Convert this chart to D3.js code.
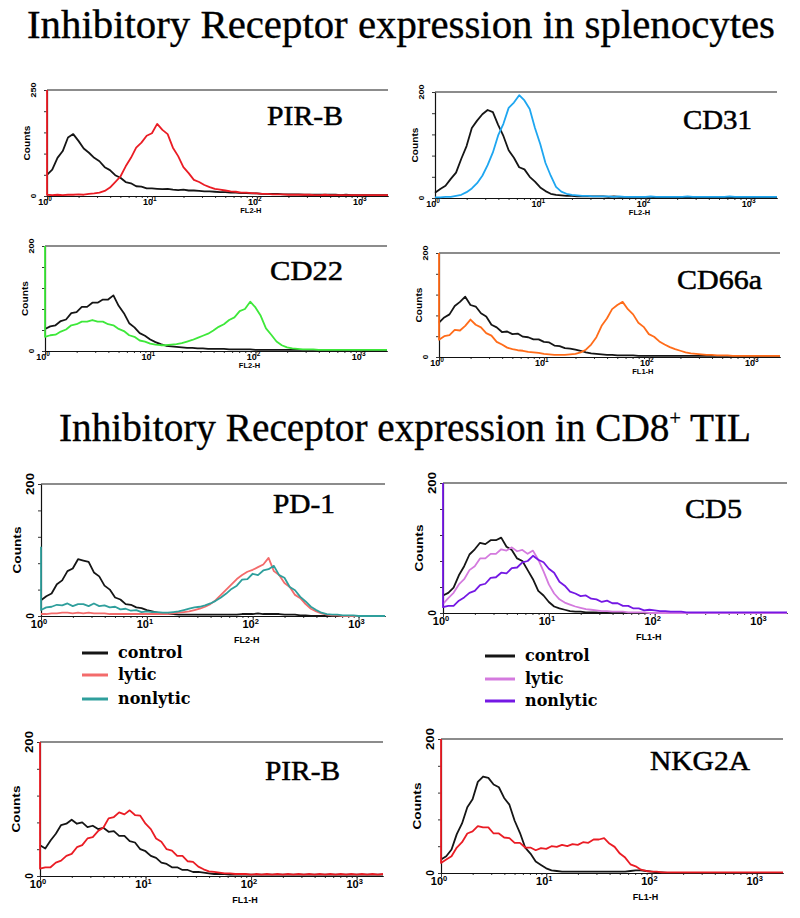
<!DOCTYPE html>
<html>
<head>
<meta charset="utf-8">
<script src="https://cdn.jsdelivr.net/npm/d3@7"></script>
<style>
  body { margin: 0; background: #fff; }
  svg { display: block; }
</style>
</head>
<body>
<svg id="figure" width="800" height="918"></svg>
<script>
// log10 fluorescence channel positions shared by all histograms
const logBins = [0, 0.05, 0.1, 0.15, 0.2, 0.25, 0.3, 0.35, 0.4, 0.45,
  0.5, 0.55, 0.6, 0.65, 0.7, 0.75, 0.8, 0.85, 0.9, 0.95,
  1, 1.05, 1.1, 1.15, 1.2, 1.25, 1.3, 1.35, 1.4, 1.45,
  1.5, 1.55, 1.6, 1.65, 1.7, 1.75, 1.8, 1.85, 1.9, 1.95,
  2, 2.05, 2.1, 2.15, 2.2, 2.25, 2.3, 2.35, 2.4, 2.45,
  2.5, 2.55, 2.6, 2.65, 2.7, 2.75, 2.8, 2.85, 2.9, 2.95,
  3, 3.05, 3.1, 3.15, 3.2, 3.25];

const decades = [1, 10, 100, 1000];
const decadeExponents = ['0', '1', '2', '3'];

const titles = ['Inhibitory Receptor expression in splenocytes', 'Inhibitory Receptor expression in CD8', ' TIL'];
const panelNames = ['PIR-B', 'CD31', 'CD22', 'CD66a', 'PD-1', 'CD5', 'PIR-B', 'NKG2A'];
const countMax = [250, 200, 200, 200, 200, 200, 200, 200];
const channelNames = ['FL2-H', 'FL2-H', 'FL2-H', 'FL1-H', 'FL2-H', 'FL1-H', 'FL1-H', 'FL1-H'];
const legendLabels = ['control', 'lytic', 'nonlytic'];

// counts per channel
const pirbSplControl = [50,62,90,106,138,146,130,112,102,90,
  82,68,61,49,43,33,30,23,22,18,
  18,17,16,17,15,14,15,13,13,12,
  11,11,10,9,9,8,8,7,7,6,
  6,5,5,5,5,4,4,4,4,3,
  3,3,3,3,3,3,2,3,2,2,
  2,2,2,2,2,2];
const pirbSplStained = [3,2,3,2,3,3,4,3,5,6,
  8,12,20,33,46,70,90,114,126,142,
  148,170,156,146,114,94,68,54,38,33,
  26,21,17,15,13,11,10,8,8,7,
  6,5,5,4,4,4,3,3,3,3,
  3,2,2,3,2,2,2,2,2,2,
  2,2,2,2,2,2];
const cd31Control = [10,17,23,36,48,74,98,132,146,158,
  166,162,138,117,90,76,58,54,40,31,
  20,13,8,6,5,4,4,3,3,3,
  3,3,3,2,3,2,2,2,2,2,
  2,2,1,1,1,1,1,1,1,1,
  1,1,1,1,1,1,1,1,1,1,
  1,1,1,1,1,1];
const cd31Stained = [1,1,2,2,4,6,11,18,28,42,
  62,86,118,140,170,180,194,184,168,132,
  102,66,42,21,12,8,6,5,4,4,
  3,3,3,3,2,3,2,2,2,2,
  2,3,2,2,2,2,2,2,3,2,
  2,2,2,2,2,2,3,2,2,2,
  2,2,2,2,2,2];
const cd22Control = [42,47,49,57,60,72,74,84,84,92,
  92,98,98,106,86,72,53,45,34,29,
  22,17,13,10,9,8,7,6,6,5,
  5,4,4,4,4,3,3,3,3,3,
  2,2,2,2,2,2,2,2,2,2,
  2,2,2,2,2,2,2,2,2,2,
  2,2,2,2,2,2];
const cd22Stained = [27,30,31,37,41,49,51,56,56,59,
  56,56,51,49,42,38,30,27,20,18,
  14,12,11,11,12,13,15,18,21,25,
  29,33,39,46,51,59,64,76,80,94,
  83,67,43,31,18,11,7,5,4,3,
  3,3,2,2,2,2,2,2,2,2,
  2,2,2,2,2,2];
const cd66aControl = [66,76,82,98,106,116,100,97,84,78,
  62,57,48,49,44,45,39,38,34,34,
  29,28,22,21,17,16,14,12,9,7,
  6,5,4,4,3,3,3,3,2,2,
  2,2,2,2,2,2,2,2,2,2,
  2,2,2,2,2,2,2,2,2,2,
  2,2,2,2,2,2];
const cd66aStained = [33,40,42,52,51,60,72,62,57,46,
  41,29,24,18,15,13,12,10,9,8,
  6,5,4,4,4,5,6,9,14,24,
  38,60,74,92,100,106,92,82,66,58,
  44,39,30,24,19,15,12,9,7,6,
  5,4,4,3,3,3,2,2,2,2,
  2,2,2,2,2,2];
const pd1Control = [24,30,34,48,54,68,72,86,84,82,
  66,60,46,40,28,25,18,17,13,12,
  9,7,5,4,3,3,2,2,2,2,
  2,2,2,2,2,2,2,2,3,3,
  3,4,3,3,3,3,2,2,2,1,
  1,0,0,0,0,0,0,0,0,0,
  0,0,0,0,0,0];
const pd1Lytic = [3,3,4,4,5,5,4,5,4,5,
  4,4,4,3,3,3,3,3,3,3,
  3,3,3,3,3,4,5,6,7,9,
  11,14,18,24,32,40,48,56,62,67,
  70,74,78,88,68,62,50,44,32,27,
  18,11,7,4,2,1,1,0,0,0,
  0,0,0,0,0,0];
const pd1Nonlytic = [9,13,14,17,16,19,15,18,18,15,
  19,15,16,13,14,10,11,8,9,6,
  7,6,6,5,5,6,7,9,11,13,
  14,16,19,23,28,34,41,46,55,56,
  64,62,69,71,76,62,58,44,39,29,
  22,14,9,5,3,2,2,1,1,1,
  0,0,0,0,0,0];
const cd5Control = [27,31,39,58,72,90,98,108,106,112,
  112,116,102,97,84,80,66,52,34,27,
  17,10,7,5,3,2,2,1,1,1,
  0,0,0,0,0,0,0,0,0,0,
  0,0,0,0,0,0,0,0,0,0,
  0,0,0,0,0,0,0,0,0,0,
  0,0,0,0,0,0];
const cd5Lytic = [14,23,31,44,52,66,72,84,84,91,
  91,98,96,101,95,97,91,96,82,64,
  44,30,21,16,13,10,8,6,5,4,
  3,3,2,2,2,1,1,1,1,0,
  0,0,0,0,0,0,0,0,0,0,
  0,0,0,0,0,0,0,0,0,0,
  0,0,0,0,0,0];
const cd5Nonlytic = [9,11,11,19,24,31,34,43,45,54,
  55,62,61,69,70,78,80,88,82,78,
  68,62,48,42,33,30,26,27,22,21,
  17,19,15,15,11,11,7,7,4,5,
  4,3,3,2,2,2,1,1,1,1,
  1,1,1,1,1,1,1,1,1,1,
  1,1,1,1,1,1];
const pirbTilControl = [46,41,53,63,76,78,84,78,80,73,
  75,70,72,66,67,60,60,52,50,40,
  37,30,27,20,18,13,13,9,9,6,
  6,5,4,3,3,3,2,2,2,2,
  2,2,2,2,2,2,2,2,2,2,
  2,2,2,2,2,2,2,2,2,2,
  2,2,2,2,2,2];
const pirbTilStained = [11,13,13,20,23,30,33,43,46,56,
  58,67,72,86,88,95,92,98,91,90,
  78,70,56,51,40,38,30,30,22,21,
  14,10,7,6,5,4,4,3,3,3,
  2,3,2,3,2,3,2,3,2,3,
  2,3,2,3,2,3,2,3,2,3,
  2,3,2,3,2,3];
const nkg2aControl = [20,25,35,58,74,98,110,136,144,142,
  132,128,112,102,78,60,38,29,17,12,
  7,4,3,2,2,2,2,2,2,2,
  2,2,2,2,2,2,3,4,4,3,
  2,1,1,0,0,0,0,0,0,0,
  0,0,0,0,0,0,0,0,0,0,
  0,0,0,0,0,0];
const nkg2aStained = [15,20,25,38,46,59,62,70,68,68,
  59,59,53,52,45,45,38,38,34,37,
  36,40,39,42,40,43,42,46,45,50,
  50,52,44,39,29,23,13,10,5,3,
  2,2,1,1,1,1,1,1,1,1,
  1,1,1,1,1,1,1,1,1,1,
  1,1,1,1,1,1];

// off-scale pile-up in the first channel (null = none)
const firstChannelCounts = [
  [null, 250], [null, null], [null, 200], [null, 200],
  [null, null, 105], [null, null, 200], [null, 200], [null, 200]
];

const seriesData = [
  [pirbSplControl, pirbSplStained],
  [cd31Control, cd31Stained],
  [cd22Control, cd22Stained],
  [cd66aControl, cd66aStained],
  [pd1Control, pd1Lytic, pd1Nonlytic],
  [cd5Control, cd5Lytic, cd5Nonlytic],
  [pirbTilControl, pirbTilStained],
  [nkg2aControl, nkg2aStained]
];

const seriesColors = [
  ['#151515', '#ea1c24'],
  ['#151515', '#1ea6f0'],
  ['#151515', '#3ee83a'],
  ['#151515', '#ff6c1a'],
  ['#151515', '#f36b6b', '#2f9f9c'],
  ['#151515', '#d47ade', '#7418e4'],
  ['#151515', '#ea1c24'],
  ['#151515', '#ea1c24']
];

// page layout of each histogram frame
const frames = [
  { left: 47, right: 388, top: 90, bottom: 196, row: 'small', label: { x: 267, y: 125, w: 76 } },
  { left: 435, right: 777, top: 92, bottom: 198, row: 'small', label: { x: 683, y: 129, w: 69 } },
  { left: 45, right: 387, top: 246, bottom: 351, row: 'small', label: { x: 270, y: 280, w: 73 } },
  { left: 439, right: 780, top: 253, bottom: 357, row: 'small', label: { x: 677, y: 289, w: 85 } },
  { left: 41, right: 385, top: 484, bottom: 616, row: 'large', label: { x: 273, y: 513, w: 62 } },
  { left: 443, right: 787, top: 483, bottom: 613, row: 'large', label: { x: 685, y: 518, w: 57 } },
  { left: 40, right: 383, top: 742, bottom: 876, row: 'large', label: { x: 265, y: 780, w: 75 } },
  { left: 441, right: 783, top: 739, bottom: 873, row: 'large', label: { x: 650, y: 770, w: 100 } }
];

const rowStyles = {
  small: { tickFont: 9, supFont: 6.5, tickDy: 9, chanDy: 17, chanFont: 7.5, countsFont: 9, countsLen: 35, countsDx: 20, numFont: 8, numDx: 14, topLen: 15 },
  large: { tickFont: 11, supFont: 7.5, tickDy: 12, chanDy: 27, chanFont: 9, countsFont: 11, countsLen: 47, countsDx: 24, numFont: 10, numDx: 11, topLen: 22 }
};

const legends = [
  { panel: 4, x1: 82, x2: 108, tx: 118, ys: [653, 675, 699] },
  { panel: 5, x1: 485, x2: 515, tx: 525, ys: [656, 679, 701] }
];

const sansFont = '"Liberation Sans", Arial, sans-serif';
const serifFont = '"Liberation Serif", "Times New Roman", serif';

const svg = d3.select('#figure');

// Section titles
svg.append('text')
    .attr('x', 27).attr('y', 38)
    .attr('font-family', serifFont).attr('font-size', 39)
    .attr('stroke', '#000').attr('stroke-width', 0.35)
    .attr('textLength', 748).attr('lengthAdjust', 'spacingAndGlyphs')
    .text(titles[0]);

const title2 = svg.append('text')
    .attr('x', 59).attr('y', 441)
    .attr('font-family', serifFont).attr('font-size', 39)
    .attr('stroke', '#000').attr('stroke-width', 0.35)
    .attr('textLength', 692).attr('lengthAdjust', 'spacingAndGlyphs');
title2.append('tspan').text(titles[1]);
title2.append('tspan').attr('dy', -16).attr('font-size', 20).text('+');
title2.append('tspan').attr('dy', 16).text(titles[2]);

// Draw one histogram frame with its overlays
function drawPanel(i) {
    const f = frames[i];
    const st = rowStyles[f.row];
    const ymax = countMax[i];
    const g = svg.append('g');

    const x = d3.scaleLog()
        .domain([1, Math.pow(10, logBins[logBins.length - 1])])
        .range([f.left, f.right]);
    const y = d3.scaleLinear()
        .domain([0, ymax])
        .range([f.bottom, f.top])
        .clamp(true);

    // grey top line at full scale
    g.append('line')
        .attr('x1', f.left).attr('x2', f.right)
        .attr('y1', y(ymax)).attr('y2', y(ymax))
        .attr('stroke', '#8c8c8c').attr('stroke-width', 2);

    // x axis: minor log ticks, then decades
    g.append('g')
        .attr('transform', `translate(0,${f.bottom})`)
        .call(d3.axisBottom(x).tickValues(x.ticks()).tickSize(2).tickSizeOuter(0).tickFormat(''));
    g.append('g')
        .attr('transform', `translate(0,${f.bottom})`)
        .call(d3.axisBottom(x).tickValues(decades).tickSize(4).tickSizeOuter(0).tickFormat(''));

    // y axis
    g.append('g')
        .attr('transform', `translate(${f.left},0)`)
        .call(d3.axisLeft(y).tickValues(d3.range(0, ymax + 1, ymax / 5)).tickSize(3).tickSizeOuter(0).tickFormat(''));

    g.selectAll('.domain').attr('stroke', '#111').attr('stroke-width', 1.2);
    g.selectAll('.tick line').attr('stroke', '#333');

    // decade labels 10^n
    decades.forEach((d, k) => {
        const t = g.append('text')
            .attr('x', x(d) - 2)
            .attr('y', f.bottom + st.tickDy)
            .attr('text-anchor', 'middle')
            .attr('font-family', sansFont).attr('font-weight', 'bold')
            .attr('font-size', st.tickFont);
        t.append('tspan').text('10');
        t.append('tspan')
            .attr('dy', -st.tickFont * 0.4)
            .attr('font-size', st.supFont)
            .text(decadeExponents[k]);
    });

    // channel name
    g.append('text')
        .attr('x', x(100) - 6)
        .attr('y', f.bottom + st.chanDy)
        .attr('text-anchor', 'middle')
        .attr('font-family', sansFont).attr('font-weight', 'bold')
        .attr('font-size', st.chanFont)
        .text(channelNames[i]);

    // rotated count labels
    const midY = (f.top + f.bottom) / 2;
    g.append('text')
        .attr('transform', `translate(${f.left - st.countsDx},${midY}) rotate(-90)`)
        .attr('text-anchor', 'middle').attr('dy', '0.35em')
        .attr('font-family', sansFont).attr('font-weight', 'bold')
        .attr('font-size', st.countsFont)
        .attr('textLength', st.countsLen).attr('lengthAdjust', 'spacingAndGlyphs')
        .text('Counts');
    g.append('text')
        .attr('transform', `translate(${f.left - st.numDx},${y(ymax)}) rotate(-90)`)
        .attr('text-anchor', 'middle').attr('dy', '0.35em')
        .attr('font-family', sansFont).attr('font-weight', 'bold')
        .attr('font-size', st.numFont)
        .attr('textLength', st.topLen).attr('lengthAdjust', 'spacingAndGlyphs')
        .text(String(ymax));
    g.append('text')
        .attr('transform', `translate(${f.left - st.numDx},${y(0)}) rotate(-90)`)
        .attr('text-anchor', 'middle').attr('dy', '0.35em')
        .attr('font-family', sansFont).attr('font-weight', 'bold')
        .attr('font-size', st.numFont)
        .text('0');

    // histogram traces
    const line = d3.line()
        .x(p => x(Math.pow(10, p[0])))
        .y(p => y(p[1]));

    seriesData[i].forEach((values, s) => {
        const pts = values.slice(0, logBins.length).map((v, k) => [logBins[k], v]);
        const pile = firstChannelCounts[i][s];
        if (pile !== null) pts.unshift([logBins[0], pile]);
        g.append('path')
            .datum(pts)
            .attr('d', line)
            .attr('fill', 'none')
            .attr('stroke', seriesColors[i][s])
            .attr('stroke-width', 1.8)
            .attr('stroke-linejoin', 'round');
    });

    // marker name
    g.append('text')
        .attr('x', f.label.x).attr('y', f.label.y)
        .attr('font-family', serifFont).attr('font-size', 27)
        .attr('stroke', '#000').attr('stroke-width', 0.5)
        .attr('textLength', f.label.w).attr('lengthAdjust', 'spacingAndGlyphs')
        .text(panelNames[i]);
}

frames.forEach((f, i) => drawPanel(i));

// legends under the PD-1 and CD5 panels
legends.forEach(lg => {
    const g = svg.append('g');
    legendLabels.forEach((lab, k) => {
        g.append('line')
            .attr('x1', lg.x1).attr('x2', lg.x2)
            .attr('y1', lg.ys[k]).attr('y2', lg.ys[k])
            .attr('stroke', seriesColors[lg.panel][k]).attr('stroke-width', 3);
        g.append('text')
            .attr('x', lg.tx).attr('y', lg.ys[k] + 5)
            .attr('font-family', '"DejaVu Serif", serif').attr('font-weight', 'bold')
            .attr('font-size', 16)
            .text(lab);
    });
});
</script>
</body>
</html>
